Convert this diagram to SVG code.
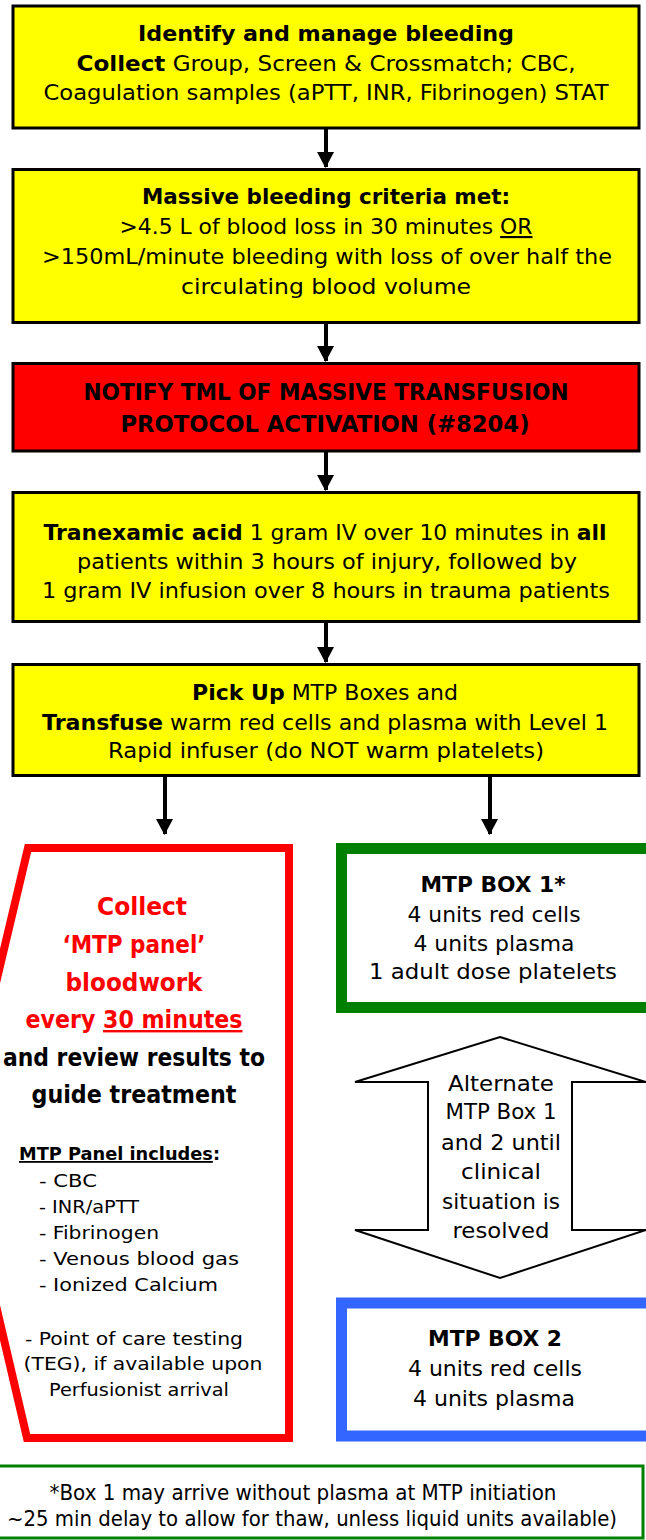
<svg xmlns="http://www.w3.org/2000/svg" width="646" height="1540" viewBox="0 0 646 1540">
<style>
text{font-family:"DejaVu Sans","Liberation Sans",sans-serif;fill:#000;text-anchor:middle}
.b{font-weight:bold}
.ybox{fill:#FFFF00;stroke:#000;stroke-width:3}
.t20{font-size:21.5px}
.t19{font-size:20.5px}
.t22{font-size:23px}
.t24{font-size:24px}
.t17{font-size:18px}
.red{fill:#FF0000}
.l{text-anchor:start}
.u{text-decoration:underline}
.conn{stroke:#000;stroke-width:4;fill:none}
</style>
<defs>
<marker id="ah" markerUnits="userSpaceOnUse" markerWidth="16" markerHeight="17" refX="15" refY="8" orient="auto" viewBox="0 0 16 17">
<path d="M0,0 L16,8.5 L0,17 Z" fill="#000"/>
</marker>
</defs>
<rect width="646" height="1540" fill="#fff"/>

<g id="n1">
<rect class="ybox" x="13" y="6" width="626" height="122"/>
<text class="t20 b" x="326" y="41" textLength="376" lengthAdjust="spacingAndGlyphs">Identify and manage bleeding</text>
<text class="t20" x="326" y="71" textLength="499" lengthAdjust="spacingAndGlyphs"><tspan class="b">Collect</tspan> Group, Screen &amp; Crossmatch; CBC,</text>
<text class="t20" x="326" y="100" textLength="565" lengthAdjust="spacingAndGlyphs">Coagulation samples (aPTT, INR, Fibrinogen) STAT</text>
</g>

<g id="n2">
<rect class="ybox" x="13" y="169.5" width="626" height="153"/>
<text class="t20 b" x="326" y="204" textLength="368" lengthAdjust="spacingAndGlyphs">Massive bleeding criteria met:</text>
<text class="t20" x="326" y="234" textLength="413" lengthAdjust="spacingAndGlyphs">&gt;4.5 L of blood loss in 30 minutes <tspan class="u">OR</tspan></text>
<text class="t20" x="327" y="264" textLength="570" lengthAdjust="spacingAndGlyphs">&gt;150mL/minute bleeding with loss of over half the</text>
<text class="t20" x="326" y="294" textLength="290" lengthAdjust="spacingAndGlyphs">circulating blood volume</text>
</g>

<g id="n3">
<rect x="13" y="363.5" width="626" height="87.5" fill="#FF0000" stroke="#000" stroke-width="3"/>
<text class="t22 b" x="326" y="400" textLength="485" lengthAdjust="spacingAndGlyphs">NOTIFY TML OF MASSIVE TRANSFUSION</text>
<text class="t22 b" x="325" y="432" textLength="409" lengthAdjust="spacingAndGlyphs">PROTOCOL ACTIVATION (#8204)</text>
</g>

<g id="n4">
<rect class="ybox" x="13" y="492.5" width="626" height="129"/>
<text class="t20" x="325" y="540" textLength="563" lengthAdjust="spacingAndGlyphs"><tspan class="b">Tranexamic acid</tspan> 1 gram IV over 10 minutes in <tspan class="b">all</tspan></text>
<text class="t20" x="327" y="569" textLength="500" lengthAdjust="spacingAndGlyphs">patients within 3 hours of injury, followed by</text>
<text class="t20" x="326" y="598" textLength="568" lengthAdjust="spacingAndGlyphs">1 gram IV infusion over 8 hours in trauma patients</text>
</g>

<g id="n5">
<rect class="ybox" x="13" y="664.5" width="626" height="111"/>
<text class="t20" x="325" y="700" textLength="266" lengthAdjust="spacingAndGlyphs"><tspan class="b">Pick Up</tspan> MTP Boxes and</text>
<text class="t20" x="325" y="730" textLength="566" lengthAdjust="spacingAndGlyphs"><tspan class="b">Transfuse</tspan> warm red cells and plasma with Level 1</text>
<text class="t20" x="326" y="758" textLength="436" lengthAdjust="spacingAndGlyphs">Rapid infuser (do NOT warm platelets)</text>
</g>

<g id="n6">
<path d="M28,848 L289,848 L289,1438 L27,1438 L-42,1143 Z" fill="#fff" stroke="#FF0000" stroke-width="8" stroke-linejoin="miter"/>
<text class="t24 b red" x="142" y="915" textLength="90" lengthAdjust="spacingAndGlyphs">Collect</text>
<text class="t24 b red" x="134" y="953" textLength="143" lengthAdjust="spacingAndGlyphs">‘MTP panel’</text>
<text class="t24 b red" x="134" y="991" textLength="137" lengthAdjust="spacingAndGlyphs">bloodwork</text>
<text class="t24 b red" x="134" y="1028" textLength="217" lengthAdjust="spacingAndGlyphs">every <tspan class="u">30 minutes</tspan></text>
<text class="t24 b" x="134" y="1066" textLength="262" lengthAdjust="spacingAndGlyphs">and review results to</text>
<text class="t24 b" x="134" y="1103" textLength="205" lengthAdjust="spacingAndGlyphs">guide treatment</text>
<text class="t17 b l" x="19" y="1160" textLength="201" lengthAdjust="spacingAndGlyphs"><tspan class="u"> MTP Panel includes</tspan>:</text>
<text class="t17 l" x="39" y="1187" textLength="58" lengthAdjust="spacingAndGlyphs">- CBC</text>
<text class="t17 l" x="39" y="1213" textLength="100" lengthAdjust="spacingAndGlyphs">- INR/aPTT</text>
<text class="t17 l" x="39" y="1239" textLength="120" lengthAdjust="spacingAndGlyphs">- Fibrinogen</text>
<text class="t17 l" x="39" y="1265" textLength="200" lengthAdjust="spacingAndGlyphs">- Venous blood gas</text>
<text class="t17 l" x="39" y="1291" textLength="179" lengthAdjust="spacingAndGlyphs">- Ionized Calcium</text>
<text class="t17" x="134" y="1345" textLength="218" lengthAdjust="spacingAndGlyphs">- Point of care testing</text>
<text class="t17" x="143" y="1370" textLength="239" lengthAdjust="spacingAndGlyphs">(TEG), if available upon</text>
<text class="t17" x="139" y="1396" textLength="180" lengthAdjust="spacingAndGlyphs">Perfusionist arrival</text>
</g>

<g id="n7">
<rect x="341.5" y="848.5" width="310" height="159" fill="#fff" stroke="#008000" stroke-width="11"/>
<text class="t20 b" x="493" y="892" textLength="145" lengthAdjust="spacingAndGlyphs">MTP BOX 1*</text>
<text class="t20" x="494" y="922" textLength="173" lengthAdjust="spacingAndGlyphs">4 units red cells</text>
<text class="t20" x="494" y="951" textLength="161" lengthAdjust="spacingAndGlyphs">4 units plasma</text>
<text class="t20" x="493" y="979" textLength="248" lengthAdjust="spacingAndGlyphs">1 adult dose platelets</text>
</g>

<g id="n8">
<path d="M500,1037 L646,1082 L572,1082 L572,1230 L646,1230 L500,1278 L355,1230 L428,1230 L428,1082 L355,1082 Z" fill="#fff" stroke="#000" stroke-width="2" stroke-linejoin="miter"/>
<text class="t20" x="501" y="1091" textLength="106" lengthAdjust="spacingAndGlyphs">Alternate</text>
<text class="t20" x="501" y="1119" textLength="111" lengthAdjust="spacingAndGlyphs">MTP Box 1</text>
<text class="t20" x="501" y="1150" textLength="120" lengthAdjust="spacingAndGlyphs">and 2 until</text>
<text class="t20" x="501" y="1179" textLength="80" lengthAdjust="spacingAndGlyphs">clinical</text>
<text class="t20" x="501" y="1209" textLength="118" lengthAdjust="spacingAndGlyphs">situation is</text>
<text class="t20" x="501" y="1238" textLength="97" lengthAdjust="spacingAndGlyphs">resolved</text>
</g>

<g id="n9">
<rect x="341.5" y="1303" width="310" height="133" fill="#fff" stroke="#3366FF" stroke-width="11"/>
<text class="t20 b" x="495" y="1346" textLength="134" lengthAdjust="spacingAndGlyphs">MTP BOX 2</text>
<text class="t20" x="495" y="1376" textLength="174" lengthAdjust="spacingAndGlyphs">4 units red cells</text>
<text class="t20" x="494" y="1406" textLength="162" lengthAdjust="spacingAndGlyphs">4 units plasma</text>
</g>

<g id="n10">
<rect x="-10" y="1466" width="653" height="72" fill="#fff" stroke="#008000" stroke-width="3"/>
<text class="t19" x="303" y="1500" textLength="507" lengthAdjust="spacingAndGlyphs">*Box 1 may arrive without plasma at MTP initiation</text>
<text class="t19" x="312" y="1526" textLength="610" lengthAdjust="spacingAndGlyphs">~25 min delay to allow for thaw, unless liquid units available)</text>
</g>

<g id="connectors">
<line class="conn" x1="326" y1="129" x2="326" y2="167" marker-end="url(#ah)"/>
<line class="conn" x1="326" y1="323" x2="326" y2="361" marker-end="url(#ah)"/>
<line class="conn" x1="326" y1="452" x2="326" y2="490" marker-end="url(#ah)"/>
<line class="conn" x1="326" y1="622" x2="326" y2="662" marker-end="url(#ah)"/>
<line class="conn" x1="165" y1="777" x2="165" y2="834" marker-end="url(#ah)"/>
<line class="conn" x1="490" y1="777" x2="490" y2="834" marker-end="url(#ah)"/>
</g>
</svg>
